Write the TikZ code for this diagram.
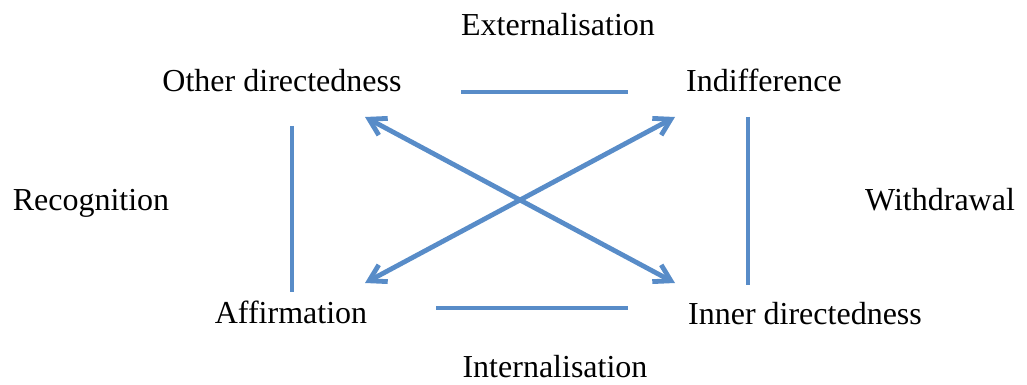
\documentclass[tikz,border=0pt]{standalone}
\usepackage{fontspec}
\setmainfont{Liberation Serif}
\usetikzlibrary{arrows.meta}
\definecolor{lineblue}{RGB}{88,140,200}
\begin{document}
\begin{tikzpicture}[x=1pt,y=-1pt,
  lbl/.style={inner sep=0pt,anchor=base,font=\fontsize{32}{38}\selectfont},
  bar/.style={draw=lineblue,line width=4.8pt},
  tip/.style={Straight Barb[length=16pt,width=19pt,line width=4.8pt,round]},
  dbl/.style={bar,{Straight Barb[length=16pt,width=19pt,line width=4.8pt]}-{Straight Barb[length=16pt,width=19pt,line width=4.8pt]}}]
\useasboundingbox (0,0) rectangle (1027,385);
\node[lbl] (ext) at (558,36) {Externalisation};
\node[lbl] (other) at (282,92) {Other directedness};
\node[lbl] (indif) at (764,92) {Indifference};
\node[lbl] (recog) at (91,210) {Recognition};
\node[lbl] (withd) at (940,210) {Withdrawal};
\node[lbl] (affirm) at (291,323) {Affirmation};
\node[lbl] (inner) at (805,324) {Inner directedness};
\node[lbl] (intern) at (555,377) {Internalisation};
\coordinate (t1) at (461,92); \coordinate (t2) at (628,92);
\coordinate (b1) at (436,308); \coordinate (b2) at (628,308);
\coordinate (l1) at (292,126); \coordinate (l2) at (292,292);
\coordinate (r1) at (748,117); \coordinate (r2) at (748,285);
\coordinate (tl) at (365,117); \coordinate (br) at (675,283);
\coordinate (bl) at (365,283); \coordinate (tr) at (675,117);
\draw[bar] (t1) -- (t2);
\draw[bar] (b1) -- (b2);
\draw[bar] (l1) -- (l2);
\draw[bar] (r1) -- (r2);
\draw[dbl] (tl) -- (br);
\draw[dbl] (bl) -- (tr);
\end{tikzpicture}
\end{document}
